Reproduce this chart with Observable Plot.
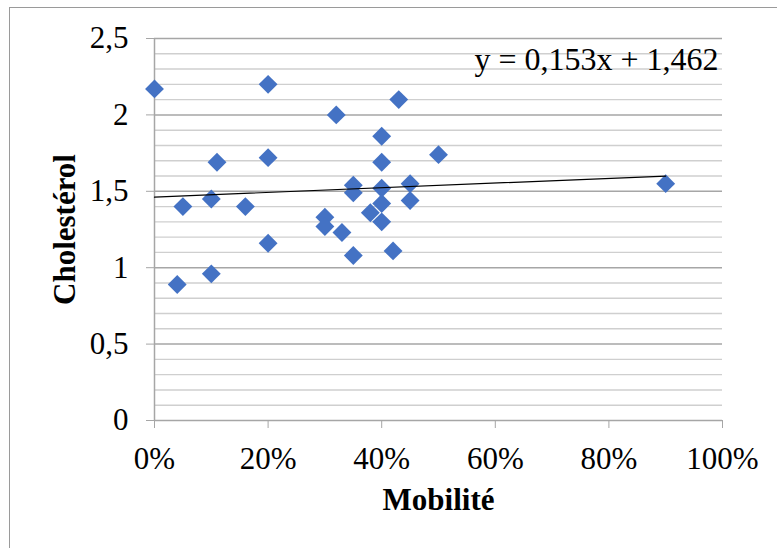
<!DOCTYPE html>
<html><head><meta charset="utf-8">
<script src="https://cdn.jsdelivr.net/npm/d3@7"></script>
<script src="https://cdn.jsdelivr.net/npm/@observablehq/plot@0.6"></script>
<style>
body{margin:0;background:#fff;}
#wrap{position:relative;width:777px;height:548px;overflow:hidden;}
#frame{position:absolute;left:9px;top:7px;width:800px;height:600px;border:1px solid #9a9a9a;}
#chart{position:absolute;left:0;top:0;}
</style></head><body>
<div id="wrap"><div id="frame"></div><div id="chart"></div></div>
<script>
const mobilite = [0, 0.20, 0.32, 0.43, 0.40, 0.11, 0.20, 0.40, 0.50, 0.35, 0.35, 0.40, 0.45, 0.90, 0.10, 0.05, 0.16, 0.45, 0.40, 0.38, 0.30, 0.30, 0.40, 0.33, 0.20, 0.35, 0.42, 0.10, 0.04];
const cholesterol = [2.17, 2.20, 2.00, 2.10, 1.86, 1.69, 1.72, 1.69, 1.74, 1.54, 1.49, 1.52, 1.55, 1.55, 1.45, 1.40, 1.40, 1.44, 1.42, 1.36, 1.33, 1.27, 1.30, 1.23, 1.16, 1.08, 1.11, 0.96, 0.89];
const trendSlope = 0.153;
const trendIntercept = 1.462;
const equationLabel = "y = 0,153x + 1,462";
const xTicks = [0, 0.2, 0.4, 0.6, 0.8, 1];
const xTickLabels = ["0%", "20%", "40%", "60%", "80%", "100%"];
const yTicks = [0, 0.5, 1, 1.5, 2, 2.5];
const yTickLabels = ["0", "0,5", "1", "1,5", "2", "2,5"];
const xTitle = "Mobilité";
const yTitle = "Cholestérol";

const points = mobilite.map((m, i) => ({x: m, y: cholesterol[i]}));
const xExt = d3.extent(mobilite);
const trend = xExt.map(x => ({x, y: trendIntercept + trendSlope * x}));
const minor = d3.range(1, 25).filter(i => i % 5 !== 0).map(i => i / 10);
const serif = "'Liberation Serif', 'Times New Roman', serif";

const chart = Plot.plot({
  width: 777, height: 548,
  marginLeft: 154, marginRight: 55, marginTop: 38, marginBottom: 128,
  x: {domain: [0, 1]},
  y: {domain: [0, 2.5]},
  style: {fontFamily: serif, fontSize: "31px", background: "transparent", color: "black", overflow: "visible"},
  marks: [
    Plot.ruleY(minor, {stroke: "#cfcfcf", strokeWidth: 1.4}),
    Plot.ruleY(yTicks, {stroke: "#a6a6a6", strokeWidth: 1.5}),
    Plot.ruleX([0], {stroke: "#a6a6a6", strokeWidth: 1.5}),
    Plot.axisX({ticks: xTicks, tickFormat: d => xTickLabels[xTicks.indexOf(d)], tickSize: 8, tickPadding: 18, stroke: "#a6a6a6", fill: "black", label: null, fontSize: 31}),
    Plot.axisY({ticks: yTicks, tickFormat: d => yTickLabels[yTicks.indexOf(d)], tickSize: 8, tickPadding: 18, stroke: "#a6a6a6", fill: "black", label: null, fontSize: 31}),
    Plot.dot(points, {x: "x", y: "y", symbol: "diamond2", r: 8.5, fill: "#4472C4", stroke: "none"}),
    Plot.line(trend, {x: "x", y: "y", stroke: "black", strokeWidth: 1.2}),
    Plot.text([equationLabel], {frameAnchor: "top-right", textAnchor: "end", lineAnchor: "middle", dx: -4, dy: 21, fontSize: 32, fill: "black"}),
    Plot.text([xTitle], {frameAnchor: "bottom", textAnchor: "middle", lineAnchor: "middle", dy: 80, fontSize: 31, fontWeight: "bold", fill: "black"}),
    Plot.text([yTitle], {frameAnchor: "left", textAnchor: "middle", lineAnchor: "middle", rotate: -90, dx: -89, fontSize: 31, fontWeight: "bold", fill: "black"})
  ]
});
document.getElementById("chart").appendChild(chart);
</script>
</body></html>
